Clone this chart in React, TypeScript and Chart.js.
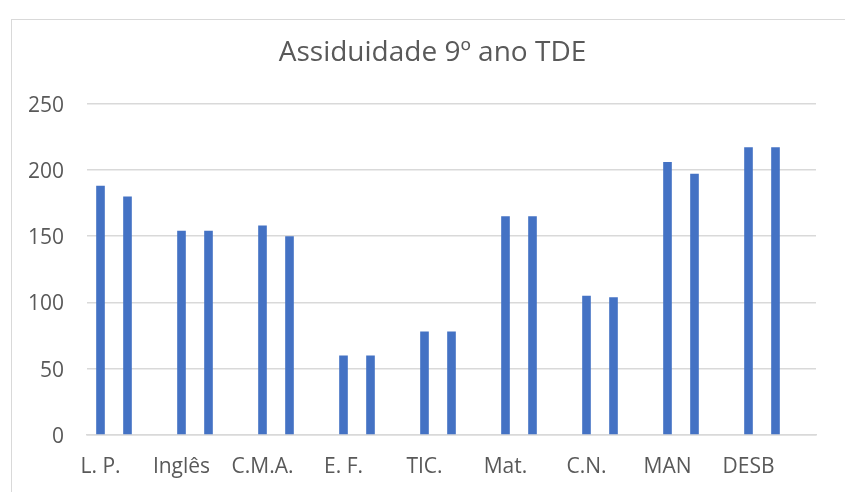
import React, { useEffect, useRef } from "react";
import { Chart, registerables } from "chart.js";

Chart.register(...registerables);

const categories = ["L. P.", "Inglês", "C.M.A.", "E. F.", "TIC.", "Mat.", "C.N.", "MAN", "DESB"];
const series1 = [188, 154, 158, 60, 78, 165, 105, 206, 217];
const series2 = [180, 154, 150, 60, 78, 165, 104, 197, 217];
const series3: (number | null)[] = [null, null, null, null, null, null, null, null, null];
const yTicks = [0, 50, 100, 150, 200, 250];
const titleText = "Assiduidade 9º ano TDE";

// Shift the title box so its centre sits where the reference places it
const titleShift = {
  id: "titleShift",
  afterLayout(chart: any) {
    const t = chart.titleBlock;
    if (t) {
      t.left = 49;
    }
  },
};

export default function App() {
  const ref = useRef<HTMLCanvasElement | null>(null);

  useEffect(() => {
    document.body.style.margin = "0";
    const canvas = ref.current;
    if (!canvas) return;
    const blue = "#4472C4";
    const grey = "#595959";
    const chart = new Chart(canvas, {
      type: "bar",
      data: {
        labels: categories,
        datasets: [
          { label: "Série 1", data: series1, backgroundColor: blue, categoryPercentage: 1.0, barPercentage: 0.32 },
          { label: "Série 2", data: series2, backgroundColor: blue, categoryPercentage: 1.0, barPercentage: 0.32 },
          { label: "Série 3", data: series3, backgroundColor: blue, categoryPercentage: 1.0, barPercentage: 0.32 },
        ],
      },
      plugins: [titleShift],
      options: {
        responsive: false,
        animation: false,
        maintainAspectRatio: false,
        layout: { padding: { left: 0, right: 29, top: 0, bottom: 0 } },
        plugins: {
          legend: { display: false },
          tooltip: { enabled: false },
          title: {
            display: true,
            text: titleText,
            color: grey,
            font: { family: "Open Sans", size: 28, weight: "400" },
            padding: { top: 36, bottom: 34 },
          },
        },
        scales: {
          x: {
            afterFit: (scale: any) => {
              scale.height = 57;
            },
            grid: { display: false, drawTicks: false },
            border: { display: true, color: "#D9D9D9", width: 1.5 },
            ticks: {
              color: grey,
              font: { family: "Open Sans", size: 21 },
              padding: 19,
              labelOffset: -27,
              maxRotation: 0,
              autoSkip: false,
            },
          },
          y: {
            min: 0,
            max: 250,
            afterBuildTicks: (scale: any) => {
              scale.ticks = yTicks.map((v) => ({ value: v }));
            },
            afterFit: (scale: any) => {
              scale.width = 87;
            },
            grid: { color: "#D9D9D9", lineWidth: 1.5, drawTicks: false },
            border: { display: false },
            ticks: {
              color: grey,
              font: { family: "Open Sans", size: 21 },
              padding: 23,
              labelOffset: 2,
            },
          },
        },
      },
    });
    return () => chart.destroy();
  }, []);

  return (
    <div style={{ position: "relative", width: 845, height: 492, overflow: "hidden", background: "#fff" }}>
      <div
        style={{
          position: "absolute",
          left: 11,
          top: 19,
          width: 900,
          height: 600,
          border: "1px solid #D9D9D9",
        }}
      />
      <canvas ref={ref} width={845} height={492} style={{ position: "absolute", left: 0, top: 0 }} />
    </div>
  );
}
